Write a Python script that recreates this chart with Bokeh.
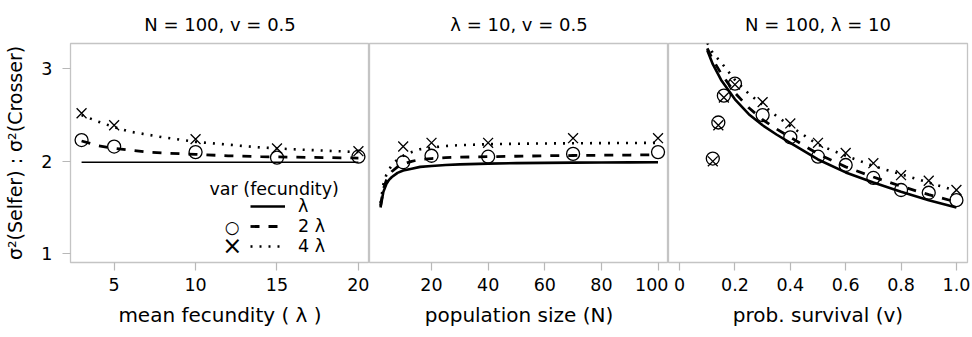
from bokeh.plotting import figure
from bokeh.layouts import row
from bokeh.models import Range1d, Legend, LegendItem, Label, CustomJSTickFormatter, FixedTicker
from bokeh.embed import file_html
from bokeh.resources import INLINE

FONT = "DejaVu Sans"

# ---------------- data ----------------
# panel 1: mean fecundity (lambda), N = 100, v = 0.5
lam_pts = [3, 5, 10, 15, 20]
lam_circ = [2.23, 2.16, 2.10, 2.04, 2.05]
lam_cross = [2.52, 2.39, 2.24, 2.14, 2.11]
lam_curve = [3, 4, 5, 6, 7, 8, 10, 12, 14, 16, 18, 20]
lam_solid = [1.99, 1.99, 1.99, 1.99, 1.99, 1.99, 1.99, 1.99, 1.99, 1.99, 1.99, 1.99]
lam_dash = [2.22, 2.17, 2.14, 2.12, 2.10, 2.09, 2.075, 2.06, 2.05, 2.045, 2.04, 2.035]
lam_dot = [2.50, 2.43, 2.37, 2.32, 2.29, 2.26, 2.21, 2.18, 2.15, 2.13, 2.115, 2.10]

# panel 2: population size (N), lambda = 10, v = 0.5
N_pts = [10, 20, 40, 70, 100]
N_circ = [1.99, 2.06, 2.05, 2.08, 2.10]
N_cross = [2.16, 2.20, 2.20, 2.25, 2.25]
N_curve = [2, 3, 4, 5, 6, 8, 10, 13, 16, 20, 25, 30, 40, 50, 60, 70, 80, 90, 100]
N_solid = [1.50, 1.67, 1.75, 1.80, 1.83, 1.875, 1.90, 1.92, 1.94, 1.95, 1.96, 1.967,
           1.975, 1.98, 1.983, 1.986, 1.988, 1.989, 1.99]
N_dash = [1.52, 1.70, 1.79, 1.85, 1.89, 1.94, 1.97, 2.00, 2.02, 2.03, 2.04, 2.045,
          2.05, 2.055, 2.06, 2.063, 2.066, 2.068, 2.07]
N_dot = [1.55, 1.75, 1.85, 1.91, 1.96, 2.02, 2.06, 2.10, 2.13, 2.15, 2.165, 2.175,
         2.185, 2.19, 2.193, 2.195, 2.197, 2.198, 2.20]

# panel 3: prob. survival (v), N = 100, lambda = 10
v_pts = [0.12, 0.14, 0.16, 0.2, 0.3, 0.4, 0.5, 0.6, 0.7, 0.8, 0.9, 1.0]
v_circ = [2.03, 2.42, 2.71, 2.84, 2.50, 2.26, 2.05, 1.96, 1.82, 1.69, 1.66, 1.58]
v_cross = [2.00, 2.39, 2.69, 2.83, 2.64, 2.41, 2.20, 2.09, 1.98, 1.85, 1.79, 1.69]
v_curve = [0.1, 0.12, 0.15, 0.2, 0.25, 0.3, 0.35, 0.4, 0.5, 0.6, 0.7, 0.8, 0.9, 1.0]
v_solid = [3.20, 3.05, 2.88, 2.67, 2.51, 2.39, 2.29, 2.20, 2.02, 1.88, 1.77, 1.67, 1.58, 1.50]
v_dash = [3.22, 3.10, 2.95, 2.74, 2.58, 2.45, 2.35, 2.26, 2.08, 1.94, 1.83, 1.73, 1.64, 1.56]
v_dot = [3.28, 3.17, 3.07, 2.88, 2.73, 2.61, 2.49, 2.38, 2.18, 2.06, 1.95, 1.86, 1.77, 1.68]

titles = ["N = 100, v = 0.5", "\u03bb = 10, v = 0.5", "N = 100, \u03bb = 10"]
xlabels = ["mean fecundity ( \u03bb )", "population size (N)", "prob. survival (v)"]
ylabel = "\u03c3\u00b2(Selfer) : \u03c3\u00b2(Crosser)"
ticks1 = [5, 10, 15, 20]
ticks2 = [20, 40, 60, 80, 100]
ticks3 = [0, 0.2, 0.4, 0.6, 0.8, 1.0]
yticks = [1, 2, 3]
legend_labels = ["\u03bb", "2 \u03bb", "4 \u03bb"]
legend_title = "var (fecundity)"

GRAY = "#c4c4c4"
TICKGRAY = "#b8b8b8"
H = 337


def make_fig(width, xr, title, xlabel, ticks, left, right, show_y):
    p = figure(width=width, height=H, x_range=Range1d(*xr), y_range=Range1d(0.906, 3.274),
               output_backend="svg", toolbar_location=None,
               min_border_left=left, min_border_right=right, min_border_top=43, min_border_bottom=75,
               y_axis_location="left" if show_y else None)
    p.title.text = title
    p.title.text_font = FONT
    p.title.text_font_size = "18px"
    p.title.text_font_style = "normal"
    p.title.align = "center"
    p.title.text_color = "#000000"
    p.title.standoff = 17
    p.grid.visible = False
    p.outline_line_color = GRAY
    p.outline_line_width = 1.3
    p.background_fill_color = "white"
    p.border_fill_color = "white"
    for ax in p.axis:
        ax.axis_line_color = None
        ax.major_tick_line_color = TICKGRAY
        ax.major_tick_line_width = 1.2
        ax.major_tick_out = 8
        ax.major_tick_in = 0
        ax.minor_tick_line_color = None
        ax.major_label_text_font = FONT
        ax.major_label_text_font_size = "17.5px"
        ax.major_label_text_color = "#000000"
        ax.axis_label_text_font = FONT
        ax.axis_label_text_font_size = "20px"
        ax.axis_label_text_font_style = "normal"
        ax.axis_label_text_color = "#000000"
    p.xaxis.ticker = FixedTicker(ticks=ticks)
    p.xaxis.axis_label = xlabel
    p.xaxis.major_label_standoff = 7
    p.xaxis.axis_label_standoff = 9
    if show_y:
        p.yaxis.ticker = FixedTicker(ticks=yticks)
        p.yaxis.axis_label = ylabel
        p.yaxis.major_label_standoff = 10
        p.yaxis.axis_label_standoff = 12
        p.yaxis.axis_label_text_font_size = "19px"
    return p


def draw(p, xc, ys, yd, yt, xp, yc, yx, solid_w):
    rs = p.line(xc, ys, line_color="black", line_width=solid_w)
    rd = p.line(xc, yd, line_color="black", line_width=2.8, line_dash="9 9")
    rt = p.line(xc, yt, line_color="black", line_width=2.6, line_dash="2 7")
    p.scatter(xp, yc, marker="circle", size=13, fill_color=None, line_color="black", line_width=1.3)
    p.scatter(xp, yx, marker="x", size=14, line_color="black", line_width=1.3)
    return rs, rd, rt


p1 = make_fig(369, (2.32, 20.68), titles[0], xlabels[0], ticks1, 70, 0, True)
p2 = make_fig(299, (-1.9, 103.7), titles[1], xlabels[1], ticks2, 0, 0, False)
p3 = make_fig(304, (-0.04, 1.04), titles[2], xlabels[2], ticks3, 0, 5, False)
p3.xaxis.formatter = CustomJSTickFormatter(code="return tick == 0 ? '0' : tick.toFixed(1);")

r1s, r1d, r1t = draw(p1, lam_curve, lam_solid, lam_dash, lam_dot, lam_pts, lam_circ, lam_cross, 1.6)
draw(p2, N_curve, N_solid, N_dash, N_dot, N_pts, N_circ, N_cross, 2.6)
draw(p3, v_curve, v_solid, v_dash, v_dot, v_pts, v_circ, v_cross, 2.6)

# thick solid sample used only by the legend (a single undefined point: draws nothing)
r_leg = p1.line(x=[float("nan")], y=[float("nan")], line_color="black", line_width=2.6)

leg = Legend(items=[LegendItem(label=legend_labels[0], renderers=[r_leg]),
                    LegendItem(label=legend_labels[1], renderers=[r1d]),
                    LegendItem(label=legend_labels[2], renderers=[r1t])],
             location=(180, 6), orientation="vertical", padding=0, margin=0, spacing=0,
             glyph_width=35, glyph_height=18, label_height=18, label_standoff=13,
             border_line_color=None, background_fill_alpha=0,
             label_text_font=FONT, label_text_font_size="17.5px", label_text_color="#000000")
p1.add_layout(leg)

p1.add_layout(Label(x=139, y=74, x_units="screen", y_units="screen", text=legend_title,
                    text_font=FONT, text_font_size="17.5px", text_baseline="middle",
                    text_align="left", text_color="#000000"))
p1.add_layout(Label(x=161.7, y=36, x_units="screen", y_units="screen", text="\u25cb",
                    text_font=FONT, text_font_size="17px", text_baseline="middle",
                    text_align="center", text_color="#000000"))
p1.add_layout(Label(x=161.7, y=17, x_units="screen", y_units="screen", text="\u00d7",
                    text_font=FONT, text_font_size="24px", text_baseline="middle",
                    text_align="center", text_color="#000000"))

layout = row(p1, p2, p3, spacing=0)
open("out.html", "w").write(file_html(layout, INLINE))
